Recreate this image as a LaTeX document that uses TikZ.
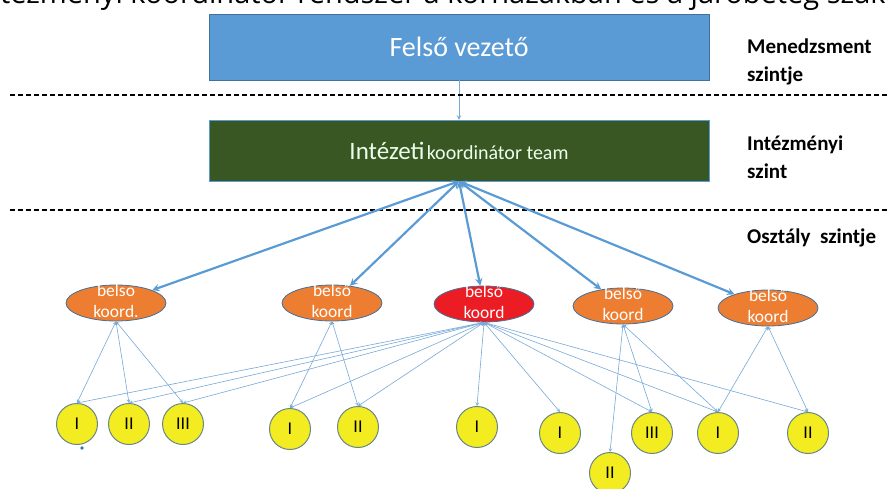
\documentclass[tikz,border=0pt]{standalone}
\usepackage{fontspec}
\setmainfont{Carlito}
\newfontfamily\cimfont{Open Sans}
\usetikzlibrary{calc, shapes.geometric, positioning, arrows}
\definecolor{vezkek}{RGB}{91,155,213}
\definecolor{intzold}{RGB}{56,87,35}
\definecolor{koordnarancs}{RGB}{237,125,49}
\definecolor{koordpiros}{RGB}{236,28,36}
\definecolor{egysegsarga}{RGB}{242,236,32}
\definecolor{keret}{RGB}{65,113,156}
\definecolor{korkeret}{RGB}{105,135,135}
\definecolor{vonal}{RGB}{118,168,216}
\newcommand\koord[5]{\node[koordell, fill=#4, label={[koordtxt]center:#5}] (#1) at (#2,#3) {};}
\newcommand\egyseg[4]{\node[egysegkor] (#1) at (#2,#3) {#4};}
\tikzset{
  szintdoboz/.style={rectangle, minimum width=500, inner sep=0pt, text=white},
  koordell/.style={ellipse, draw=keret, line width=0.8pt, minimum width=100, minimum height=36, inner sep=0pt},
  koordtxt/.style={text=white, align=center, inner sep=0pt, yshift=2pt, font=\fontsize{17.5}{20.5}\selectfont},
  egysegkor/.style={circle, draw=korkeret, line width=1pt, fill=egysegsarga, minimum size=41, inner sep=0pt, font=\fontsize{18}{18}\selectfont},
  vastag/.style={stealth-stealth, draw=vezkek, line width=2.2pt},
  vekony/.style={stealth-stealth, draw=vonal, line width=0.6pt},
  szintvonal/.style={dash pattern=on 5pt off 3pt, line width=1.4pt},
  szinttxt/.style={anchor=west, align=left, inner sep=0pt, font=\bfseries\fontsize{21}{28}\selectfont}
}

\begin{document}
\begin{tikzpicture}[x=1pt, y=-1pt]
\useasboundingbox (0,0) rectangle (888,488);
\node[anchor=base west, inner sep=0pt, font=\cimfont\fontsize{29}{29}\selectfont] (cim) at (-26,3) {Intézményi koordinátor rendszer a kórházakban és a járóbeteg szakellátásban};

\node[szintdoboz, fill=vezkek, draw=keret, minimum height=66, font=\fontsize{28}{30}\selectfont] (fv) at (459,47) {Felső vezető};
\node[szintdoboz, fill=intzold, draw=vezkek, minimum height=61, text=white!92!green] (team) at (459,150.5) {{\fontsize{25}{28}\selectfont Intézeti} {\fontsize{20}{24}\selectfont koordinátor team}};
\draw[-stealth, draw=vonal, line width=1pt] (fv.south) -- (team.north);

\draw[szintvonal] (10,95) -- (888,95);
\draw[szintvonal] (10,210) -- (888,210);
\node[szinttxt] (menszint) at (747,62) {Menedzsment\\szintje};
\node[szinttxt] (intszint) at (747,157) {Intézményi\\szint};
\node[szinttxt] (oszszint) at (747,238) {Osztály\ \ szintje};

\koord{k1}{116}{303}{koordnarancs}{belso\\koord.}
\koord{k2}{332}{303}{koordnarancs}{belső\\koord}
\koord{k3}{484}{304}{koordpiros}{belső\\koord}
\koord{k4}{623}{306}{koordnarancs}{belső\\koord}
\koord{k5}{768}{308}{koordnarancs}{belső\\koord}

\draw[vastag] (team.south) -- (k1);
\draw[vastag] (team.south) -- (k2);
\draw[vastag] (team.south) -- (k3);
\draw[vastag] (team.south) -- (k4);
\draw[vastag] (team.south) -- (k5);

\egyseg{e1}{77}{424}{I}
\egyseg{e2}{129}{424}{II}
\egyseg{e3}{183}{424}{III}
\egyseg{e4}{290}{429}{I}
\egyseg{e5}{358}{427}{II}
\egyseg{e6}{477}{427}{I}
\egyseg{e7}{560}{433}{I}
\egyseg{e8}{610}{473}{II}
\egyseg{e9}{652}{433}{III}
\egyseg{e10}{718}{433}{I}
\egyseg{e11}{808}{433}{II}
\fill[keret] (82,448) circle (1.8);

\draw[vekony] (k1.south) -- (e1.north);
\draw[vekony] (k1.south) -- (e2.north);
\draw[vekony] (k1.south) -- (e3.north);
\draw[vekony] (k2.south) -- (e4.north);
\draw[vekony] (k2.south) -- (e5.north);
\draw[vekony] (k3.south) -- (e1.north);
\draw[vekony] (k3.south) -- (e2.north);
\draw[vekony] (k3.south) -- (e3.north);
\draw[vekony] (k3.south) -- (e4.north);
\draw[vekony] (k3.south) -- (e5.north);
\draw[vekony] (k3.south) -- (e6.north);
\draw[vekony] (k3.south) -- (e7.north);
\draw[vekony] (k3.south) -- (e9.north);
\draw[vekony] (k3.south) -- (e10.north);
\draw[vekony] (k3.south) -- (e11.north);
\draw[vekony] (k4.south) -- (e8.north);
\draw[vekony] (k4.south) -- (e9.north);
\draw[vekony] (k4.south) -- (e10.north);
\draw[vekony] (k5.south) -- (e10.north);
\draw[vekony] (k5.south) -- (e11.north);
\end{tikzpicture}
\end{document}
